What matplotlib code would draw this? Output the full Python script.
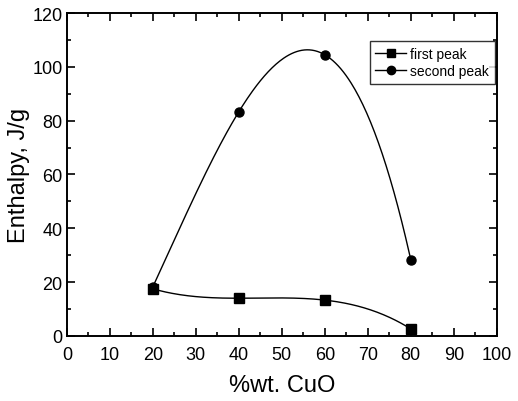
import numpy as np
import matplotlib
matplotlib.use('Agg')
import matplotlib.pyplot as plt
from matplotlib.ticker import MultipleLocator

plt.rcParams['font.family'] = ['Liberation Sans', 'DejaVu Sans']

# ================= data =================
cuo_pct = [20, 40, 60, 80]
first_peak = [17.5, 14.0, 13.3, 2.6]
second_peak = [18.2, 83.3, 104.5, 28.3]
# ========================================


def smooth(x, y):
    # cubic through the four points, like the original spline
    coef = np.polyfit(x, y, 3)
    xs = np.linspace(min(x), max(x), 200)
    return xs, np.polyval(coef, xs)


fig = plt.figure(figsize=(5.18, 4.02), dpi=100)
ax = fig.add_axes([0.129, 0.162, 0.830, 0.803])

xs, ys = smooth(cuo_pct, first_peak)
ax.plot(xs, ys, color='black', lw=1.0)
xs, ys = smooth(cuo_pct, second_peak)
ax.plot(xs, ys, color='black', lw=1.0)

ax.plot(cuo_pct, first_peak, 's', color='black', ms=6.5, label='first peak')
ax.plot(cuo_pct, second_peak, 'o', color='black', ms=6.5, label='second peak')

# legend proxies with line + marker
h1, = ax.plot([], [], '-s', color='black', ms=6, lw=1.0)
h2, = ax.plot([], [], '-o', color='black', ms=6, lw=1.0)
leg = ax.legend([h1, h2], ['first peak', 'second peak'], loc='upper right',
                bbox_to_anchor=(0.995, 0.913), fontsize=10, frameon=True,
                fancybox=False, edgecolor='black', handlelength=2.2,
                handletextpad=0.3, borderpad=0.4, labelspacing=0.25,
                borderaxespad=0)
leg.get_frame().set_linewidth(1.0)

ax.set_xlim(0, 100)
ax.set_ylim(0, 120)
ax.xaxis.set_major_locator(MultipleLocator(10))
ax.xaxis.set_minor_locator(MultipleLocator(5))
ax.yaxis.set_major_locator(MultipleLocator(20))
ax.yaxis.set_minor_locator(MultipleLocator(10))
ax.tick_params(which='both', direction='in', top=True, right=True, width=1.2)
ax.tick_params(which='major', length=6, labelsize=13, pad=3)
ax.tick_params(axis='x', which='major', pad=7)
ax.tick_params(which='minor', length=3)
for s in ax.spines.values():
    s.set_linewidth(1.4)

ax.set_xlabel('%wt. CuO', fontsize=17, labelpad=8)
ax.set_ylabel('Enthalpy, J/g', fontsize=17, labelpad=2)

fig.savefig('out.png', dpi=100)
